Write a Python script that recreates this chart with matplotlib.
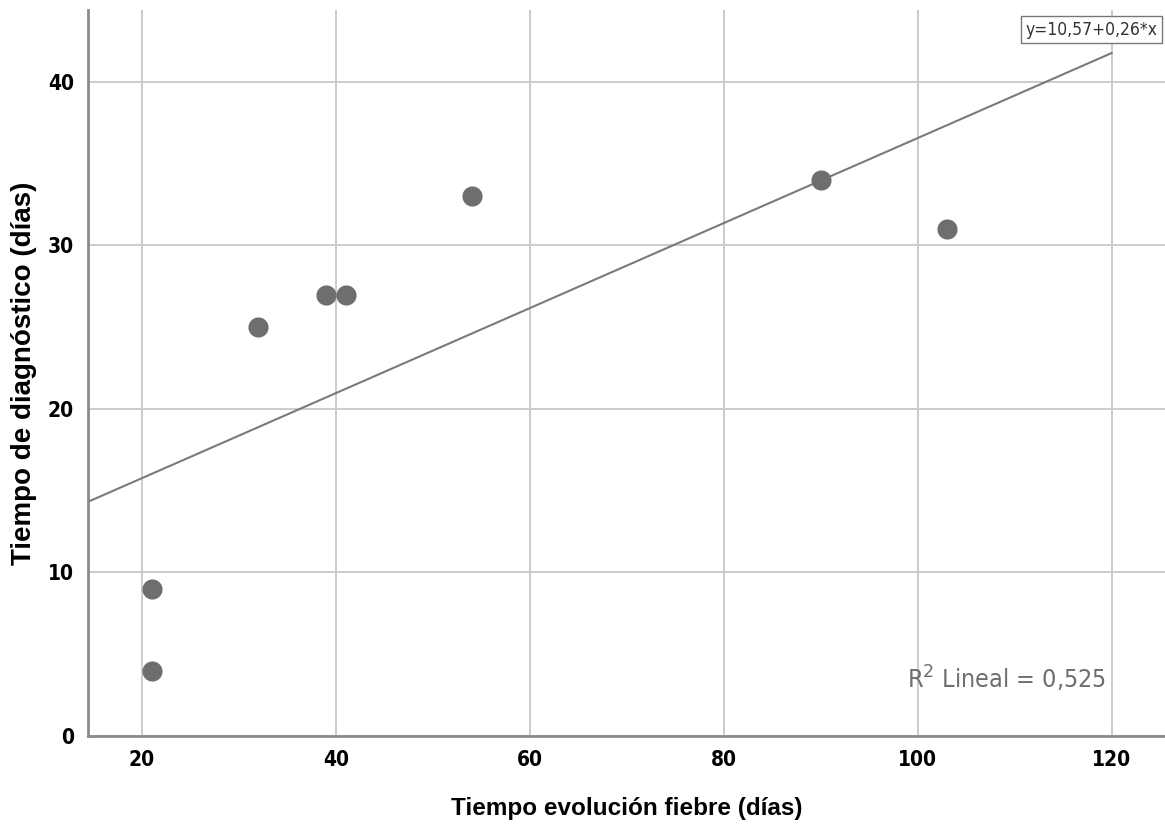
import matplotlib
matplotlib.use("Agg")
import matplotlib.pyplot as plt

# data
fiebre = [21, 21, 32, 39, 41, 54, 90, 103]
diagnostico = [9, 4, 25, 27, 27, 33, 34, 31]
x_ticks = [20, 40, 60, 80, 100, 120]
y_ticks = [0, 10, 20, 30, 40]
intercepto = 10.57
pendiente = 0.26

fig = plt.figure(figsize=(11.65, 8.34), dpi=100)
ax = fig.add_axes([0.0755, 0.1175, 0.9245, 0.8705])

ax.set_xlim(14.43, 125.5)
ax.set_ylim(0, 44.4)

ax.grid(True, color="#cccccc", linewidth=1.4)
ax.set_axisbelow(True)

# regression line
xs = [14.43, 120]
ys = [intercepto + pendiente * v for v in xs]
ax.plot(xs, ys, color="#7a7a7a", linewidth=1.5, zorder=2)

ax.scatter(fiebre, diagnostico, s=210, color="#6e6e6e", zorder=3, linewidths=0)

for s in ["top", "right"]:
    ax.spines[s].set_visible(False)
for s in ["left", "bottom"]:
    ax.spines[s].set_color("#8a8a8a")
    ax.spines[s].set_linewidth(2)

ax.set_xticks(x_ticks)
ax.set_yticks(y_ticks)
ax.tick_params(length=0, pad=10)
for lab in ax.get_xticklabels() + ax.get_yticklabels():
    lab.set_fontfamily("DejaVu Sans")
    lab.set_fontstretch("condensed")
    lab.set_fontweight("bold")
    lab.set_fontsize(15)

ax.set_xlabel("Tiempo evolución fiebre (días)", fontsize=17.5, fontweight="bold",
              family="Liberation Sans")
ax.set_ylabel("Tiempo de diagnóstico (días)", fontsize=20, fontweight="bold",
              family="Liberation Sans")
ax.xaxis.set_label_coords(0.5, -0.084)
ax.yaxis.set_label_coords(-0.047, 0.5)

ax.text(117.9, 43.2, "y=10,57+0,26*x", ha="center", va="center", fontsize=12.5,
        family="DejaVu Sans", stretch="condensed", color="#333333",
        bbox=dict(boxstyle="square,pad=0.25", facecolor="white",
                  edgecolor="#777777", linewidth=1))

ax.text(109.2, 3.5, r"R$^2$ Lineal = 0,525", ha="center", va="center",
        fontsize=18, family="DejaVu Sans", stretch="condensed", color="#6e6e6e")

fig.savefig("out.png", dpi=100)
